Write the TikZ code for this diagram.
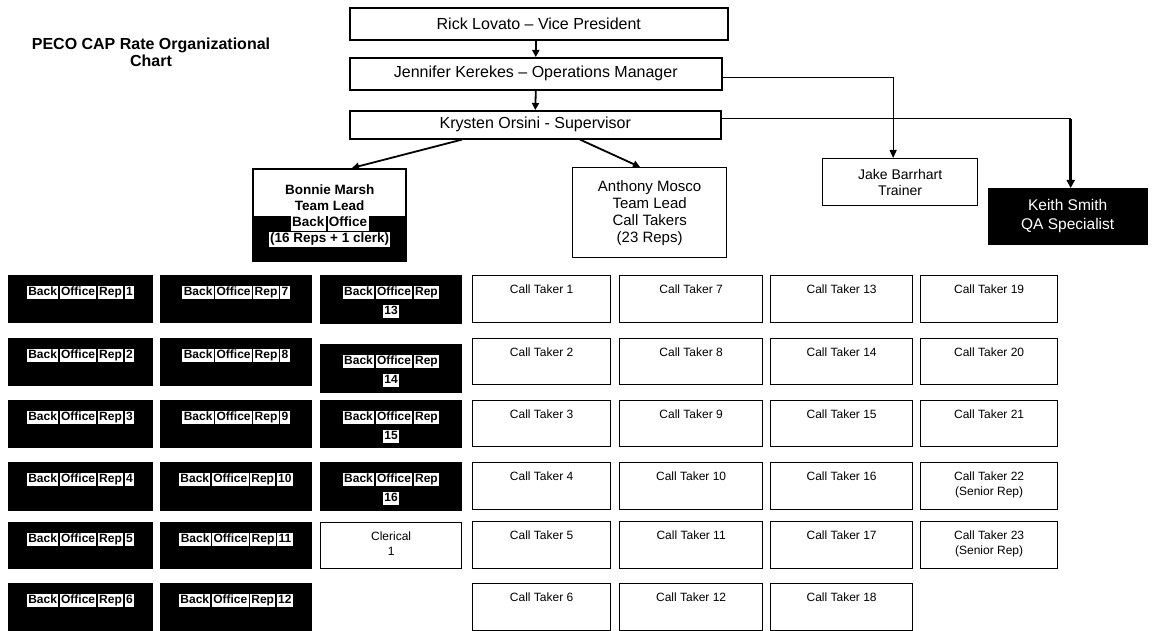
\documentclass[tikz,border=0pt]{standalone}
\usepackage{fontspec}
\setmainfont{Liberation Sans}
\usetikzlibrary{arrows.meta,calc}
\newcommand\fsz[2]{\fontsize{#1pt}{#2pt}\selectfont}
% white halo behind a word (black text on black box)
\newcommand\wb[1]{{\setlength\fboxsep{1.3pt}\colorbox{white}{\rule[-0.22em]{0pt}{0.92em}#1}}}
\newcommand\wsp{\hspace{-1.8pt} }
\newcommand\bor[1]{\wb{Back}\wsp\wb{Office}\wsp\wb{Rep}\wsp\wb{#1}}
\newcommand\bort[1]{\wb{Back}\wsp\wb{Office}\wsp\wb{Rep}\\\wb{#1}}
% grid box: name, x, y, w, h, style, strut, text
\newcommand\gridbox[8]{%
  \node[#6, anchor=north west, inner sep=0pt] (#1) at (#2,#3)
   {\parbox[t][#5pt][t]{#4pt}{\centering\rule{0pt}{#7pt}#8\par}};}
\tikzset{
  topbox/.style={draw, line width=1.6pt, fill=white, anchor=north west, inner sep=0pt,
    font=\fsz{16}{19}},
  blk/.style={draw=black, fill=black, text=black, line width=1pt, font=\fsz{12}{19}\bfseries},
  ct/.style={draw, fill=white, line width=1.3pt, font=\fsz{12}{15}},
  arr/.style={line width=1.8pt, -{Triangle[length=7pt,width=7pt]}},
  thinarr/.style={line width=1.1pt, -{Triangle[length=8pt,width=7pt]}},
  thickarr/.style={line width=2.6pt, -{Triangle[length=8pt,width=8pt]}},
  link/.style={line width=1.1pt},
}
\begin{document}
\begin{tikzpicture}[x=1pt,y=-1pt]
\useasboundingbox[fill=white] (0,0) rectangle (1152,631);

% title
\node[align=center, font=\fsz{16}{17}\bfseries] (title) at (151,52)
  {PECO CAP Rate Organizational\\Chart};

% top chain
\node[topbox, minimum width=378pt, minimum height=32pt] (rick) at (349,7)
  {Rick Lovato -- Vice President};
\node[topbox, minimum width=372pt, minimum height=32pt] (jen) at (349,57)
  {Jennifer Kerekes -- Operations Manager};
\node[topbox, minimum width=371pt, minimum height=28pt] (kry) at (349,110)
  {Krysten Orsini - Supervisor};

% team leads
\node[draw, line width=2.4pt, fill=white, anchor=north west, minimum width=153pt,
  minimum height=92pt, inner sep=0pt] (bon) at (252,168) {};
\fill[black] ($(bon.south west)+(0,-46)$) rectangle (bon.south east);
\node[align=center, font=\fsz{13.5}{16}\bfseries] (bont) at ($(bon.center)+(0,1)$)
  {Bonnie Marsh\\Team Lead\\\wb{Back}\wsp\wb{Office}\\\wb{(16 Reps + 1 clerk)}};

\node[draw, line width=1.3pt, fill=white, anchor=north west, minimum width=154pt,
  minimum height=90pt, inner sep=0pt, align=center, font=\fsz{15}{17}] (ant) at (572,167)
  {Anthony Mosco\\Team Lead\\Call Takers\\(23 Reps)};

\node[draw, line width=1.3pt, fill=white, anchor=north west, minimum width=155pt,
  minimum height=47pt, inner sep=0pt, align=center, font=\fsz{14}{16}] (jake) at (822,158)
  {Jake Barrhart\\Trainer};

\node[draw, fill=black, text=white, anchor=north west, minimum width=159pt,
  minimum height=56pt, inner sep=0pt, align=center, font=\fsz{15.5}{19}] (keith) at (988,188)
  {Keith Smith\\QA Specialist};

% connectors
\draw[arr] (rick.south -| jen.north) -- (jen.north);
\draw[arr] (jen.south) -- (kry.north);
\draw[arr] ($(kry.south west)+(113,0)$) -- ($(bon.north west)+(100,0)$);
\draw[arr] ($(kry.south west)+(231,0)$) -- ($(ant.north west)+(68,0)$);
\coordinate (jk) at ($(jake.north)+(-7,0)$);
\draw[thinarr] ($(jen.east)+(0,4)$) -| (jk);
\coordinate (kk) at ($(keith.north)+(3,0)$);
\coordinate (kc) at ($(kry.east)+(0,-6)$);
\coordinate (kturn) at (kk |- kc);
\draw[link] (kc) -- (kturn);
\draw[thickarr] (kturn) -- (kk);

% back office grid
\gridbox{b1}{8}{275}{144}{47}{blk}{20}{\bor{1}}
\gridbox{b2}{8}{338}{144}{47}{blk}{20}{\bor{2}}
\gridbox{b3}{8}{400}{144}{47}{blk}{20}{\bor{3}}
\gridbox{b4}{8}{462}{144}{48}{blk}{20}{\bor{4}}
\gridbox{b5}{8}{522}{144}{46}{blk}{20}{\bor{5}}
\gridbox{b6}{8}{583}{144}{47}{blk}{20}{\bor{6}}
\gridbox{b7}{160}{275}{151}{47}{blk}{20}{\bor{7}}
\gridbox{b8}{160}{338}{151}{47}{blk}{20}{\bor{8}}
\gridbox{b9}{160}{400}{151}{47}{blk}{20}{\bor{9}}
\gridbox{b10}{160}{462}{151}{48}{blk}{20}{\bor{10}}
\gridbox{b11}{160}{522}{151}{46}{blk}{20}{\bor{11}}
\gridbox{b12}{160}{583}{151}{47}{blk}{20}{\bor{12}}
\gridbox{b13}{320}{275}{141}{48}{blk}{20}{\bort{13}}
\gridbox{b14}{320}{344}{141}{48}{blk}{20}{\bort{14}}
\gridbox{b15}{320}{400}{141}{47}{blk}{20}{\bort{15}}
\gridbox{b16}{320}{462}{141}{48}{blk}{20}{\bort{16}}
\gridbox{cl1}{320}{522}{141}{46}{ct}{18}{Clerical\\1}

% call taker grid
\gridbox{c1}{472}{275}{138}{47}{ct}{18}{Call Taker 1}
\gridbox{c2}{472}{338}{138}{46}{ct}{18}{Call Taker 2}
\gridbox{c3}{472}{400}{138}{46}{ct}{18}{Call Taker 3}
\gridbox{c4}{472}{462}{138}{47}{ct}{18}{Call Taker 4}
\gridbox{c5}{472}{521}{138}{47}{ct}{18}{Call Taker 5}
\gridbox{c6}{472}{583}{138}{47}{ct}{18}{Call Taker 6}
\gridbox{c7}{619}{275}{143}{47}{ct}{18}{Call Taker 7}
\gridbox{c8}{619}{338}{143}{46}{ct}{18}{Call Taker 8}
\gridbox{c9}{619}{400}{143}{46}{ct}{18}{Call Taker 9}
\gridbox{c10}{619}{462}{143}{47}{ct}{18}{Call Taker 10}
\gridbox{c11}{619}{521}{143}{47}{ct}{18}{Call Taker 11}
\gridbox{c12}{619}{583}{143}{47}{ct}{18}{Call Taker 12}
\gridbox{c13}{770}{275}{142}{47}{ct}{18}{Call Taker 13}
\gridbox{c14}{770}{338}{142}{46}{ct}{18}{Call Taker 14}
\gridbox{c15}{770}{400}{142}{46}{ct}{18}{Call Taker 15}
\gridbox{c16}{770}{462}{142}{47}{ct}{18}{Call Taker 16}
\gridbox{c17}{770}{521}{142}{47}{ct}{18}{Call Taker 17}
\gridbox{c18}{770}{583}{142}{47}{ct}{18}{Call Taker 18}
\gridbox{c19}{920}{275}{137}{47}{ct}{18}{Call Taker 19}
\gridbox{c20}{920}{338}{137}{46}{ct}{18}{Call Taker 20}
\gridbox{c21}{920}{400}{137}{46}{ct}{18}{Call Taker 21}
\gridbox{c22}{920}{462}{137}{47}{ct}{18}{Call Taker 22\\(Senior Rep)}
\gridbox{c23}{920}{521}{137}{47}{ct}{18}{Call Taker 23\\(Senior Rep)}
\end{tikzpicture}
\end{document}
